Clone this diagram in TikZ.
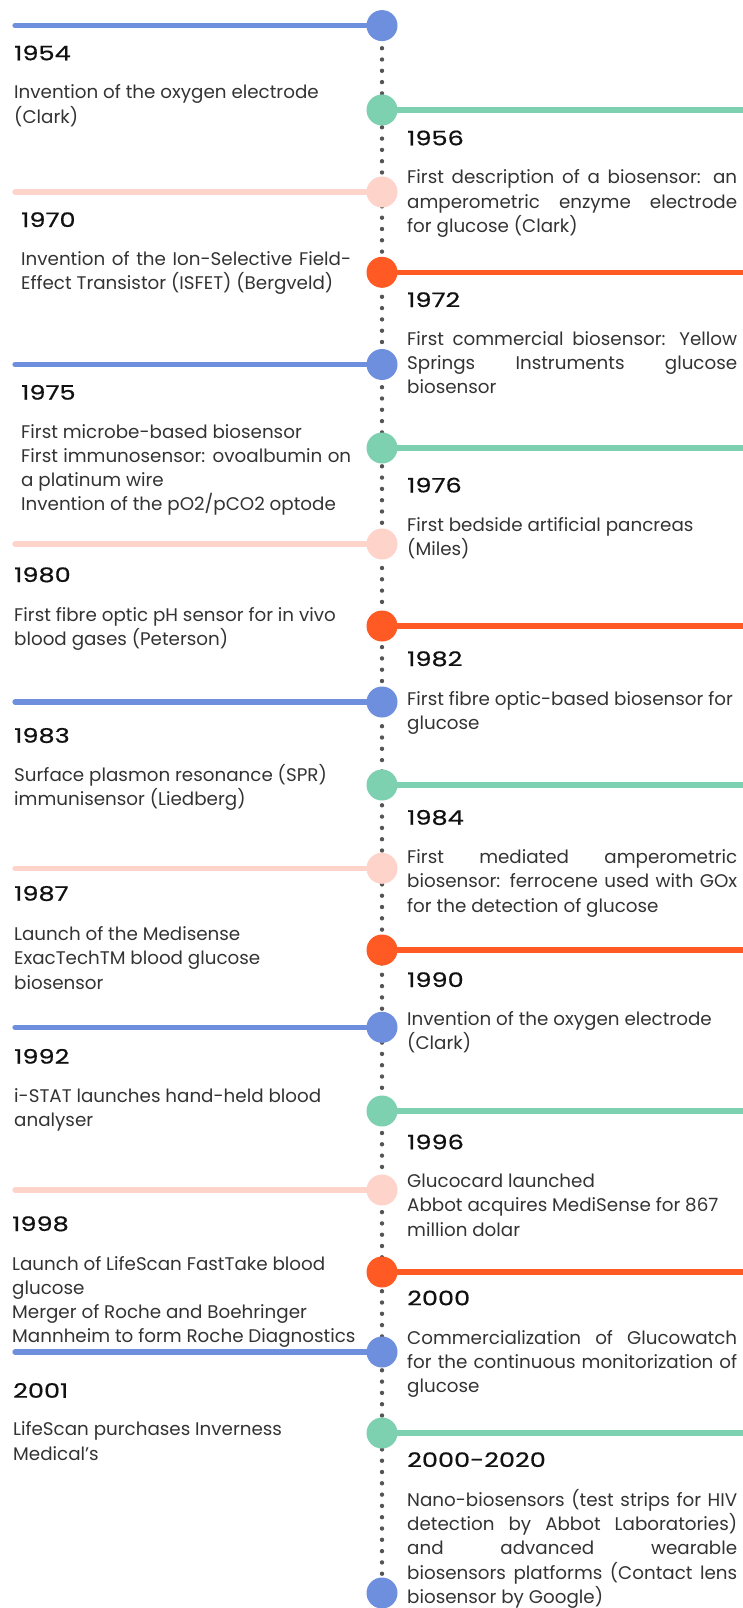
\documentclass[tikz,border=0pt]{standalone}
\usepackage{fontspec}
\setmainfont{Poppins}
\newfontfamily\bodyfont{Poppins}
\newfontfamily\yearfont[FakeBold=0.6,FakeStretch=1.28]{Poppins}
\usetikzlibrary{backgrounds}
\definecolor{cblue}{HTML}{6E8FDD}
\definecolor{cgreen}{HTML}{7DD0B0}
\definecolor{cpink}{HTML}{FDD3CA}
\definecolor{corange}{HTML}{FF5A24}
\definecolor{cdot}{HTML}{555555}
\definecolor{ctext}{HTML}{333333}
\definecolor{cyear}{HTML}{111111}
\newlength\colw \setlength\colw{330pt}
\newcommand\JL[1]{\makebox[\colw][s]{#1}}
\newcommand\evt[1]{\parbox[t]{\colw}{\raggedright #1}}
\begin{document}
\begin{tikzpicture}[x=1pt,y=-1pt,
 dotnode/.style={circle,inner sep=0pt,minimum size=31pt},
 yearlbl/.style={anchor=base west,inner sep=0pt,font=\yearfont\fontsize{20}{24}\selectfont,text=cyear},
 desc/.style={anchor=base west,inner sep=0pt,font=\bodyfont\fontsize{18.3}{24.2}\selectfont,text=ctext},
 bar/.style={line width=5.3pt,line cap=round},
 spine/.style={line width=4.4pt,cdot,dash pattern=on 0pt off 11.3pt,line cap=round}]
\useasboundingbox (0,0) rectangle (742,1608);

% circles
\node[dotnode,fill=cblue]   (c1)  at (382,25.6) {};
\node[dotnode,fill=cgreen]  (c2)  at (382,110) {};
\node[dotnode,fill=cpink]   (c3)  at (382,192) {};
\node[dotnode,fill=corange] (c4)  at (382,272.3) {};
\node[dotnode,fill=cblue]   (c5)  at (382,364.5) {};
\node[dotnode,fill=cgreen]  (c6)  at (382,448) {};
\node[dotnode,fill=cpink]   (c7)  at (382,544) {};
\node[dotnode,fill=corange] (c8)  at (382,626) {};
\node[dotnode,fill=cblue]   (c9)  at (382,702) {};
\node[dotnode,fill=cgreen]  (c10) at (382,785) {};
\node[dotnode,fill=cpink]   (c11) at (382,868.3) {};
\node[dotnode,fill=corange] (c12) at (382,950) {};
\node[dotnode,fill=cblue]   (c13) at (382,1027.3) {};
\node[dotnode,fill=cgreen]  (c14) at (382,1111) {};
\node[dotnode,fill=cpink]   (c15) at (382,1190) {};
\node[dotnode,fill=corange] (c16) at (382,1272) {};
\node[dotnode,fill=cblue]   (c17) at (382,1352) {};
\node[dotnode,fill=cgreen]  (c18) at (382,1433) {};
\node[dotnode,fill=cblue]   (c19) at (382,1593) {};

% bar ends
\coordinate (e1)  at (15,25.6);
\coordinate (e2)  at (745,110);
\coordinate (e3)  at (15,192);
\coordinate (e4)  at (745,272.3);
\coordinate (e5)  at (15,364.5);
\coordinate (e6)  at (745,448);
\coordinate (e7)  at (15,544);
\coordinate (e8)  at (745,626);
\coordinate (e9)  at (15,702);
\coordinate (e10) at (745,785);
\coordinate (e11) at (15,868.3);
\coordinate (e12) at (745,950);
\coordinate (e13) at (15,1027.3);
\coordinate (e14) at (745,1111);
\coordinate (e15) at (15,1190);
\coordinate (e16) at (745,1272);
\coordinate (e17) at (15,1352);
\coordinate (e18) at (745,1433);

\begin{scope}[on background layer]
\draw[spine] (c1.center) -- (c19.center);
\draw[bar,cblue]   (e1)  -- (c1.center);
\draw[bar,cgreen]  (c2.center)  -- (e2);
\draw[bar,cpink]   (e3)  -- (c3.center);
\draw[bar,corange] (c4.center)  -- (e4);
\draw[bar,cblue]   (e5)  -- (c5.center);
\draw[bar,cgreen]  (c6.center)  -- (e6);
\draw[bar,cpink]   (e7)  -- (c7.center);
\draw[bar,corange] (c8.center)  -- (e8);
\draw[bar,cblue]   (e9)  -- (c9.center);
\draw[bar,cgreen]  (c10.center) -- (e10);
\draw[bar,cpink]   (e11) -- (c11.center);
\draw[bar,corange] (c12.center) -- (e12);
\draw[bar,cblue]   (e13) -- (c13.center);
\draw[bar,cgreen]  (c14.center) -- (e14);
\draw[bar,cpink]   (e15) -- (c15.center);
\draw[bar,corange] (c16.center) -- (e16);
\draw[bar,cblue]   (e17) -- (c17.center);
\draw[bar,cgreen]  (c18.center) -- (e18);
\end{scope}

% years and texts
\node[yearlbl] (y1) at (14,60.3) {1954};
\node[desc] (t1) at (14,99) {\evt{Invention of the oxygen electrode\\(Clark)}};

\node[yearlbl] (y2) at (407,145.3) {1956};
\node[desc] (t2) at (407,184) {\evt{\JL{First description of a biosensor: an}\\\JL{amperometric enzyme electrode}\\for glucose (Clark)}};

\node[yearlbl] (y3) at (21,227) {1970};
\node[desc] (t3) at (21,265.7) {\evt{\JL{Invention of the Ion-Selective Field-}\\Effect Transistor (ISFET) (Bergveld)}};

\node[yearlbl] (y4) at (407,307) {1972};
\node[desc] (t4) at (407,345) {\evt{\JL{First commercial biosensor: Yellow}\\\JL{Springs Instruments glucose}\\biosensor}};

\node[yearlbl] (y5) at (21,399.7) {1975};
\node[desc] (t5) at (21,438) {\evt{First microbe-based biosensor\\\JL{First immunosensor: ovoalbumin on}\\a platinum wire\\Invention of the pO2/pCO2 optode}};

\node[yearlbl] (y6) at (407,492.5) {1976};
\node[desc] (t6) at (407,531) {\evt{First bedside artificial pancreas\\(Miles)}};

\node[yearlbl] (y7) at (14,582) {1980};
\node[desc] (t7) at (14,621) {\evt{First fibre optic pH sensor for in vivo\\blood gases (Peterson)}};

\node[yearlbl] (y8) at (407,666) {1982};
\node[desc] (t8) at (407,705) {\evt{First fibre optic-based biosensor for\\glucose}};

\node[yearlbl] (y9) at (14,742.7) {1983};
\node[desc] (t9) at (14,781) {\evt{Surface plasmon resonance (SPR)\\immunisensor (Liedberg)}};

\node[yearlbl] (y10) at (407,824.7) {1984};
\node[desc] (t10) at (407,863.7) {\evt{\JL{First mediated amperometric}\\\JL{biosensor: ferrocene used with GOx}\\for the detection of glucose}};

\node[yearlbl] (y11) at (14,900.7) {1987};
\node[desc] (t11) at (14,940.7) {\evt{Launch of the Medisense\\ExacTechTM blood glucose\\biosensor}};

\node[yearlbl] (y12) at (407,987) {1990};
\node[desc] (t12) at (407,1025.7) {\evt{Invention of the oxygen electrode\\(Clark)}};

\node[yearlbl] (y13) at (14,1063.7) {1992};
\node[desc] (t13) at (14,1102.3) {\evt{i-STAT launches hand-held blood\\analyser}};

\node[yearlbl] (y14) at (407,1149.3) {1996};
\node[desc] (t14) at (407,1187.7) {\evt{Glucocard launched\\Abbot acquires MediSense for 867\\million dolar}};

\node[yearlbl] (y15) at (12,1231) {1998};
\node[desc] (t15) at (12,1270) {\evt{Launch of LifeScan FastTake blood\\glucose\\Merger of Roche and Boehringer\\\mbox{Mannheim to form Roche Diagnostics}}};

\node[yearlbl] (y16) at (407,1305.3) {2000};
\node[desc] (t16) at (407,1344.3) {\evt{\JL{Commercialization of Glucowatch}\\\JL{for the continuous monitorization of}\\glucose}};

\node[yearlbl] (y17) at (13,1397.8) {2001};
\node[desc] (t17) at (13,1435.8) {\evt{LifeScan purchases Inverness\\Medical’s}};

\node[yearlbl] (y18) at (407,1467) {2000-2020};
\node[desc] (t18) at (407,1506.5) {\evt{\JL{Nano-biosensors (test strips for HIV}\\\JL{detection by Abbot Laboratories)}\\\JL{and advanced wearable}\\\JL{biosensors platforms (Contact lens}\\biosensor by Google)}};
\end{tikzpicture}
\end{document}
